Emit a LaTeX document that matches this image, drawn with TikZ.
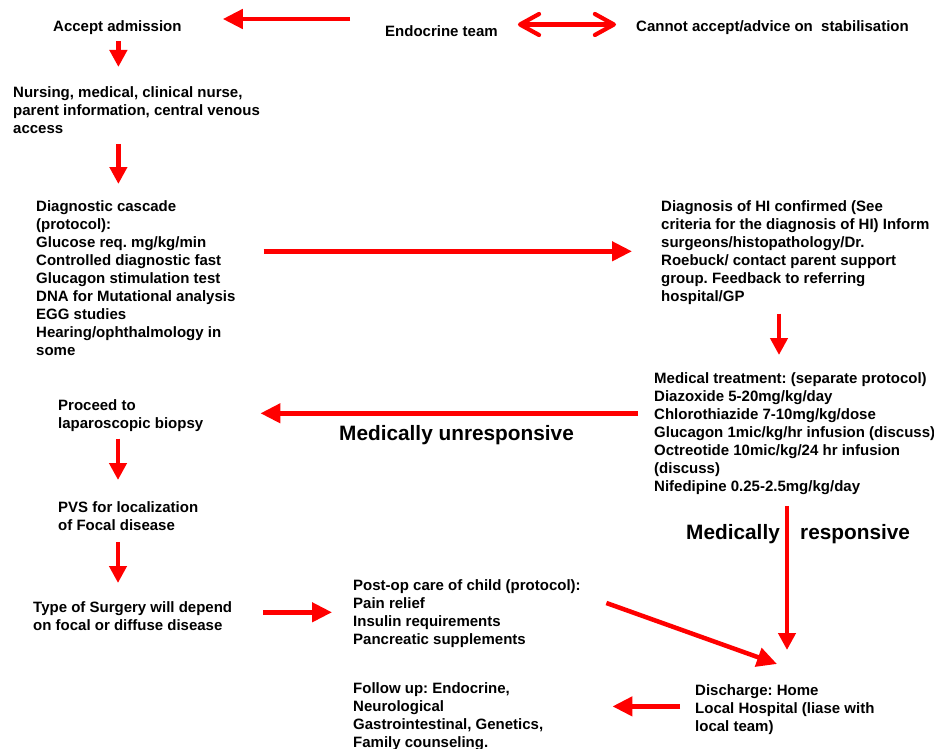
\documentclass[tikz,border=0pt]{standalone}
\usepackage{fontspec}
\setmainfont{Liberation Sans}
\usetikzlibrary{arrows.meta}
\begin{document}
\frenchspacing
\begin{tikzpicture}[x=1pt,y=-1pt,
  txt/.style={anchor=north west, inner sep=0pt, align=left, font=\fontsize{15}{18}\selectfont\bfseries\frenchspacing},
  big/.style={anchor=north west, inner sep=0pt, font=\fontsize{20.8}{25}\selectfont\bfseries},
  arrh/.style={draw=red, line width=4.5pt, -{Triangle[length=20pt,width=19pt]}},
  arrv/.style={draw=red, line width=4.5pt, -{Triangle[length=17pt,width=17pt]}},
  dbl/.style={draw=red, line width=4.2pt, {Straight Barb[length=19pt,width=21pt,round]}-{Straight Barb[length=19pt,width=21pt,round]}}]
\fill[white] (0,0) rectangle (934,749);
\useasboundingbox (0,0) rectangle (934,749);
\clip (0,0) rectangle (934,749);

\node[txt] (acc) at (53,20) {Accept admission};
\node[txt] (endo) at (385,25) {Endocrine team};
\node[txt] (cannot) at (636,20) {Cannot accept/advice on\ \ stabilisation};
\node[txt] (nur) at (13,86) {Nursing, medical, clinical nurse,\\parent information, central venous\\access};
\node[txt] (diag) at (36,200) {Diagnostic cascade\\(protocol):\\Glucose req. mg/kg/min\\Controlled diagnostic fast\\Glucagon stimulation test\\DNA for Mutational analysis\\EGG studies\\Hearing/ophthalmology in\\some};
\node[txt] (hi) at (661,200.5) {Diagnosis of HI confirmed (See\\criteria for the diagnosis of HI) Inform\\surgeons/histopathology/Dr.\\Roebuck/ contact parent support\\group. Feedback to referring\\hospital/GP};
\node[txt] (med) at (654,372.5) {Medical treatment: (separate protocol)\\Diazoxide 5-20mg/kg/day\\Chlorothiazide 7-10mg/kg/dose\\Glucagon 1mic/kg/hr infusion (discuss)\\Octreotide 10mic/kg/24 hr infusion\\(discuss)\\Nifedipine 0.25-2.5mg/kg/day};
\node[txt] (proc) at (58,399) {Proceed to\\laparoscopic biopsy};
\node[txt] (pvs) at (58,501.5) {PVS for localization\\of Focal disease};
\node[txt] (surg) at (33,601.5) {Type of Surgery will depend\\on focal or diffuse disease};
\node[txt] (post) at (353,579) {Post-op care of child (protocol):\\Pain relief\\Insulin requirements\\Pancreatic supplements};
\node[txt] (fol) at (353,682.5) {Follow up: Endocrine,\\Neurological\\Gastrointestinal, Genetics,\\Family counseling.};
\node[txt] (dis) at (695,684) {Discharge: Home\\Local Hospital (liase with\\local team)};
\node[big] (unres) at (339,425) {Medically unresponsive};
\node[big] (resp1) at (686,524) {Medically};
\node[big] (resp2) at (800,524) {responsive};

% connectors
\draw[arrh] ([xshift=-35pt,yshift=6pt]endo.north west) -- ([xshift=41pt,yshift=1pt]acc.north east);
\draw[dbl] ([xshift=20pt,yshift=0.5pt]endo.north east) -- ([xshift=-20pt,yshift=-4.5pt]cannot.north west);
\draw[arrv] ([xshift=1pt,yshift=-7pt]acc.south) -- ([xshift=1pt,yshift=19pt]acc.south |- nur.north);
\draw[arrv] ([xshift=1pt,yshift=-10.4pt]acc.south |- nur.south) -- ([xshift=1pt,yshift=16pt]acc.south |- diag.north);
\draw[arrh, shorten <=28pt, shorten >=29pt] ([yshift=1.4pt]hi.west -| diag.east) -- ([yshift=1.4pt]hi.west);
\draw[arrv] ([xshift=118pt,yshift=-8.8pt]hi.south west) -- ([xshift=125pt,yshift=17.5pt]med.north west);
\draw[arrh, shorten <=16pt, shorten >=57pt] ([yshift=1.9pt]proc.east -| med.west) -- ([yshift=1.9pt]proc.east);
\draw[arrv] ([xshift=60pt,yshift=-7.3pt]proc.south west) -- ([xshift=60pt,yshift=21.5pt]pvs.north west);
\draw[arrv] ([xshift=60pt,yshift=-10.9pt]pvs.south west) -- ([xshift=85pt,yshift=18.5pt]surg.north west);
\draw[arrh, shorten <=31pt, shorten >=21pt] ([yshift=0.9pt]post.west -| surg.east) -- ([yshift=0.9pt]post.west);
\draw[arrh] ([xshift=25.5pt,yshift=-24pt]post.north east) -- ([xshift=82pt,yshift=20pt]dis.north west);
\draw[arrv] ([xshift=133pt,yshift=-10.8pt]med.south west) -- ([xshift=92pt,yshift=34pt]dis.north west);
\draw[arrh, shorten <=15pt, shorten >=69pt] ([yshift=2.8pt]dis.west) -- ([yshift=2.8pt]dis.west -| fol.east);
\end{tikzpicture}
\end{document}
